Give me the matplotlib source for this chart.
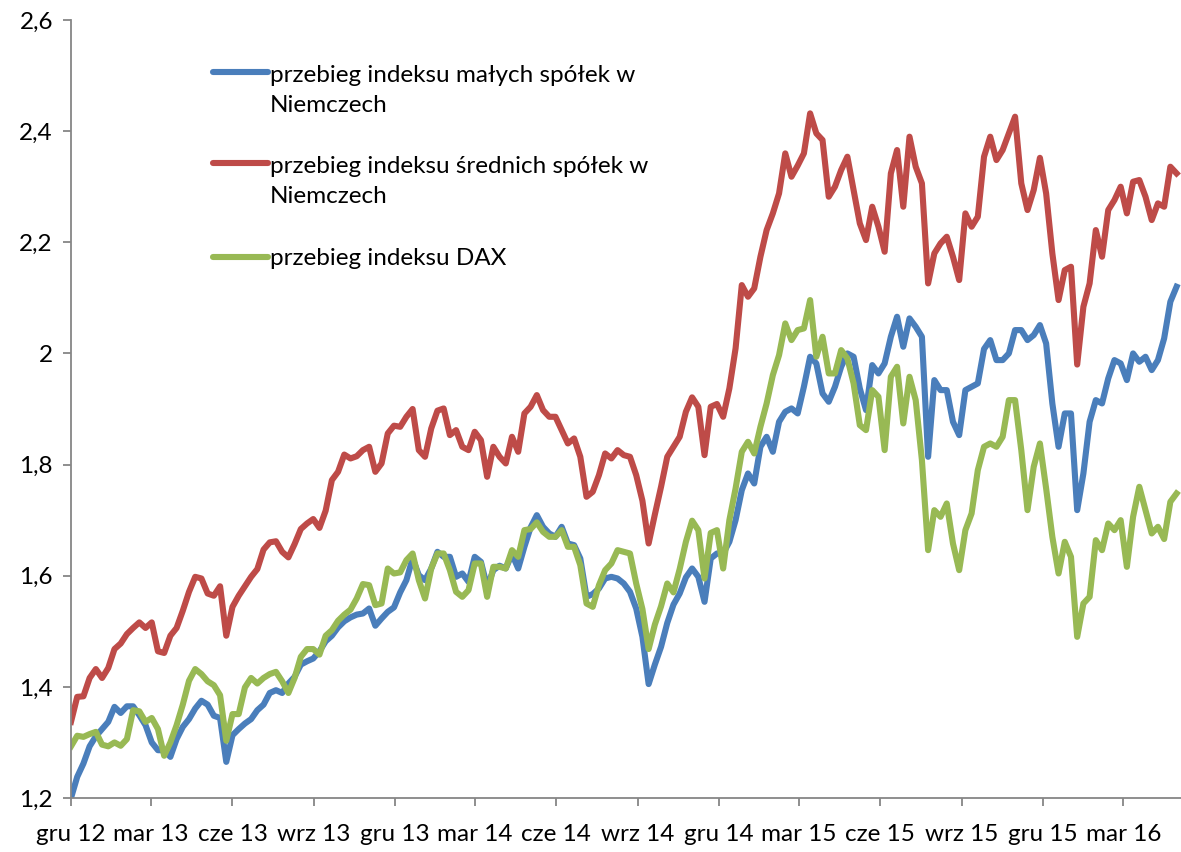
import pandas as pd
import matplotlib
matplotlib.use('Agg')
import matplotlib.pyplot as plt
from matplotlib.ticker import FuncFormatter

# weekly readings, first week starts 1 Dec 2012
start_date = '2012-12-01'

mid_caps = [
    1.337, 1.382, 1.383, 1.416, 1.432, 1.416, 1.434, 1.468, 1.478, 1.495,
    1.506, 1.516, 1.506, 1.516, 1.464, 1.461, 1.492, 1.506, 1.537, 1.571,
    1.598, 1.595, 1.568, 1.564, 1.581, 1.492, 1.544, 1.564, 1.581, 1.598,
    1.612, 1.647, 1.660, 1.662, 1.643, 1.633, 1.657, 1.684, 1.694, 1.702,
    1.686, 1.717, 1.772, 1.787, 1.818, 1.811, 1.815, 1.826, 1.832, 1.787,
    1.802, 1.856, 1.870, 1.868, 1.886, 1.900, 1.826, 1.814, 1.865, 1.897,
    1.901, 1.853, 1.862, 1.832, 1.826, 1.859, 1.844, 1.778, 1.832, 1.814,
    1.802, 1.850, 1.823, 1.892, 1.904, 1.925, 1.898, 1.886, 1.886, 1.862,
    1.838, 1.847, 1.814, 1.742, 1.751, 1.781, 1.820, 1.811, 1.826, 1.817,
    1.814, 1.781, 1.735, 1.658, 1.710, 1.760, 1.814, 1.832, 1.850, 1.895,
    1.921, 1.904, 1.817, 1.904, 1.909, 1.886, 1.937, 2.009, 2.123, 2.102,
    2.117, 2.174, 2.222, 2.252, 2.288, 2.360, 2.318, 2.338, 2.360, 2.432,
    2.396, 2.384, 2.282, 2.300, 2.330, 2.354, 2.294, 2.234, 2.204, 2.264,
    2.228, 2.183, 2.324, 2.366, 2.264, 2.390, 2.336, 2.306, 2.126, 2.180,
    2.198, 2.210, 2.174, 2.132, 2.252, 2.228, 2.246, 2.354, 2.390, 2.348,
    2.366, 2.396, 2.426, 2.306, 2.258, 2.294, 2.352, 2.288, 2.180, 2.096,
    2.150, 2.156, 1.980, 2.084, 2.126, 2.222, 2.174, 2.258, 2.276, 2.300,
    2.252, 2.309, 2.312, 2.282, 2.240, 2.270, 2.264, 2.336, 2.324,
]

small_caps = [
    1.200, 1.238, 1.262, 1.293, 1.311, 1.324, 1.337, 1.364, 1.353, 1.365,
    1.365, 1.349, 1.331, 1.300, 1.286, 1.286, 1.274, 1.306, 1.328, 1.342,
    1.361, 1.375, 1.368, 1.348, 1.344, 1.265, 1.313, 1.324, 1.334, 1.342,
    1.358, 1.368, 1.389, 1.394, 1.389, 1.406, 1.418, 1.440, 1.446, 1.451,
    1.464, 1.482, 1.492, 1.507, 1.518, 1.525, 1.530, 1.532, 1.541, 1.510,
    1.523, 1.535, 1.543, 1.570, 1.592, 1.631, 1.601, 1.592, 1.613, 1.643,
    1.634, 1.634, 1.598, 1.604, 1.589, 1.634, 1.625, 1.580, 1.610, 1.618,
    1.613, 1.639, 1.613, 1.652, 1.687, 1.709, 1.688, 1.676, 1.670, 1.688,
    1.658, 1.655, 1.631, 1.562, 1.567, 1.577, 1.595, 1.598, 1.595, 1.586,
    1.571, 1.541, 1.490, 1.405, 1.440, 1.472, 1.515, 1.548, 1.568, 1.597,
    1.613, 1.598, 1.553, 1.631, 1.640, 1.640, 1.661, 1.700, 1.754, 1.784,
    1.766, 1.832, 1.850, 1.823, 1.877, 1.895, 1.901, 1.892, 1.940, 1.994,
    1.982, 1.928, 1.913, 1.940, 1.976, 2.000, 1.994, 1.937, 1.898, 1.979,
    1.964, 1.982, 2.030, 2.066, 2.012, 2.063, 2.048, 2.030, 1.814, 1.952,
    1.934, 1.934, 1.877, 1.853, 1.934, 1.940, 1.946, 2.008, 2.024, 1.988,
    1.988, 2.000, 2.042, 2.042, 2.024, 2.033, 2.051, 2.018, 1.910, 1.832,
    1.892, 1.892, 1.718, 1.784, 1.877, 1.916, 1.910, 1.955, 1.988, 1.982,
    1.952, 2.000, 1.985, 1.994, 1.970, 1.988, 2.027, 2.093, 2.120,
]

dax = [
    1.293, 1.312, 1.310, 1.315, 1.319, 1.296, 1.293, 1.300, 1.294, 1.306,
    1.358, 1.356, 1.337, 1.344, 1.324, 1.276, 1.300, 1.331, 1.368, 1.411,
    1.432, 1.423, 1.410, 1.403, 1.385, 1.303, 1.351, 1.351, 1.399, 1.416,
    1.406, 1.416, 1.423, 1.427, 1.410, 1.389, 1.416, 1.454, 1.468, 1.468,
    1.458, 1.492, 1.502, 1.519, 1.530, 1.539, 1.559, 1.585, 1.583, 1.547,
    1.550, 1.613, 1.604, 1.606, 1.628, 1.640, 1.592, 1.559, 1.613, 1.640,
    1.640, 1.610, 1.571, 1.562, 1.574, 1.622, 1.622, 1.562, 1.616, 1.616,
    1.613, 1.646, 1.634, 1.682, 1.684, 1.696, 1.679, 1.670, 1.670, 1.682,
    1.652, 1.652, 1.619, 1.550, 1.544, 1.583, 1.610, 1.622, 1.646, 1.643,
    1.640, 1.586, 1.540, 1.468, 1.512, 1.545, 1.586, 1.570, 1.612, 1.661,
    1.699, 1.682, 1.595, 1.677, 1.682, 1.613, 1.700, 1.757, 1.823, 1.841,
    1.820, 1.868, 1.910, 1.961, 1.997, 2.054, 2.024, 2.042, 2.045, 2.096,
    1.994, 2.030, 1.964, 1.964, 2.006, 1.991, 1.946, 1.871, 1.862, 1.934,
    1.922, 1.826, 1.958, 1.976, 1.874, 1.958, 1.916, 1.808, 1.646, 1.718,
    1.706, 1.730, 1.658, 1.610, 1.682, 1.712, 1.790, 1.832, 1.838, 1.832,
    1.850, 1.916, 1.916, 1.826, 1.718, 1.796, 1.838, 1.757, 1.670, 1.604,
    1.661, 1.634, 1.490, 1.550, 1.562, 1.664, 1.646, 1.694, 1.682, 1.700,
    1.616, 1.706, 1.760, 1.718, 1.676, 1.688, 1.666, 1.733, 1.748,
]

labels = [
    ['przebieg indeksu małych spółek w', 'Niemczech'],
    ['przebieg indeksu średnich spółek w', 'Niemczech'],
    ['przebieg indeksu DAX'],
]
colors = ['#4A7EBB', '#BE4B48', '#98B954']

month_names = {12: 'gru', 3: 'mar', 6: 'cze', 9: 'wrz'}

plt.rcParams['font.family'] = ['Lato', 'DejaVu Sans']

dates = pd.date_range(start_date, periods=len(mid_caps), freq='7D')

fig = plt.figure(figsize=(11.81, 8.52), dpi=100)
ax = fig.add_axes([71 / 1181, 54 / 852, 1110 / 1181, 778 / 852])

lw = 4.4
ax.plot(dates, small_caps, color=colors[0], lw=lw, solid_joinstyle='round')
ax.plot(dates, mid_caps, color=colors[1], lw=lw, solid_joinstyle='round')
ax.plot(dates, dax, color=colors[2], lw=lw, solid_joinstyle='round')

ax.set_ylim(1.2, 2.6)
ax.set_yticks([1.2, 1.4, 1.6, 1.8, 2.0, 2.2, 2.4, 2.6])
ax.yaxis.set_major_formatter(FuncFormatter(lambda v, p: f'{v:g}'.replace('.', ',')))

ticks = pd.date_range('2012-12-01', '2016-03-01', freq='3MS')
ax.set_xticks(ticks)
ax.set_xticklabels([f'{month_names[t.month]} {t.year % 100}' for t in ticks])
ax.set_xlim(pd.Timestamp('2012-12-01'), pd.Timestamp('2016-05-05'))

for s in ['top', 'right']:
    ax.spines[s].set_visible(False)
for s in ['left', 'bottom']:
    ax.spines[s].set_color('#868686')
    ax.spines[s].set_linewidth(1.3)

ax.tick_params(axis='y', direction='out', length=6, width=1.3, color='#868686',
               labelsize=17.5, pad=7)
ax.tick_params(axis='x', direction='out', length=6, width=1.3, color='#868686',
               labelsize=17.5, pad=13)

# legend drawn by hand so the line sits on the first text row
handle_y = [0.9332, 0.8162, 0.6954]
text_y = [[0.9203, 0.8817], [0.8033, 0.7648], [0.6851]]
for c, hy, rows, ty in zip(colors, handle_y, labels, text_y):
    ax.plot([0.128, 0.1775], [hy, hy], color=c, lw=lw, transform=ax.transAxes,
            solid_capstyle='round', clip_on=False)
    for row, y in zip(rows, ty):
        ax.text(0.1795, y, row, transform=ax.transAxes, fontsize=17.5,
                va='baseline', ha='left')

fig.savefig('out.png', dpi=100)
